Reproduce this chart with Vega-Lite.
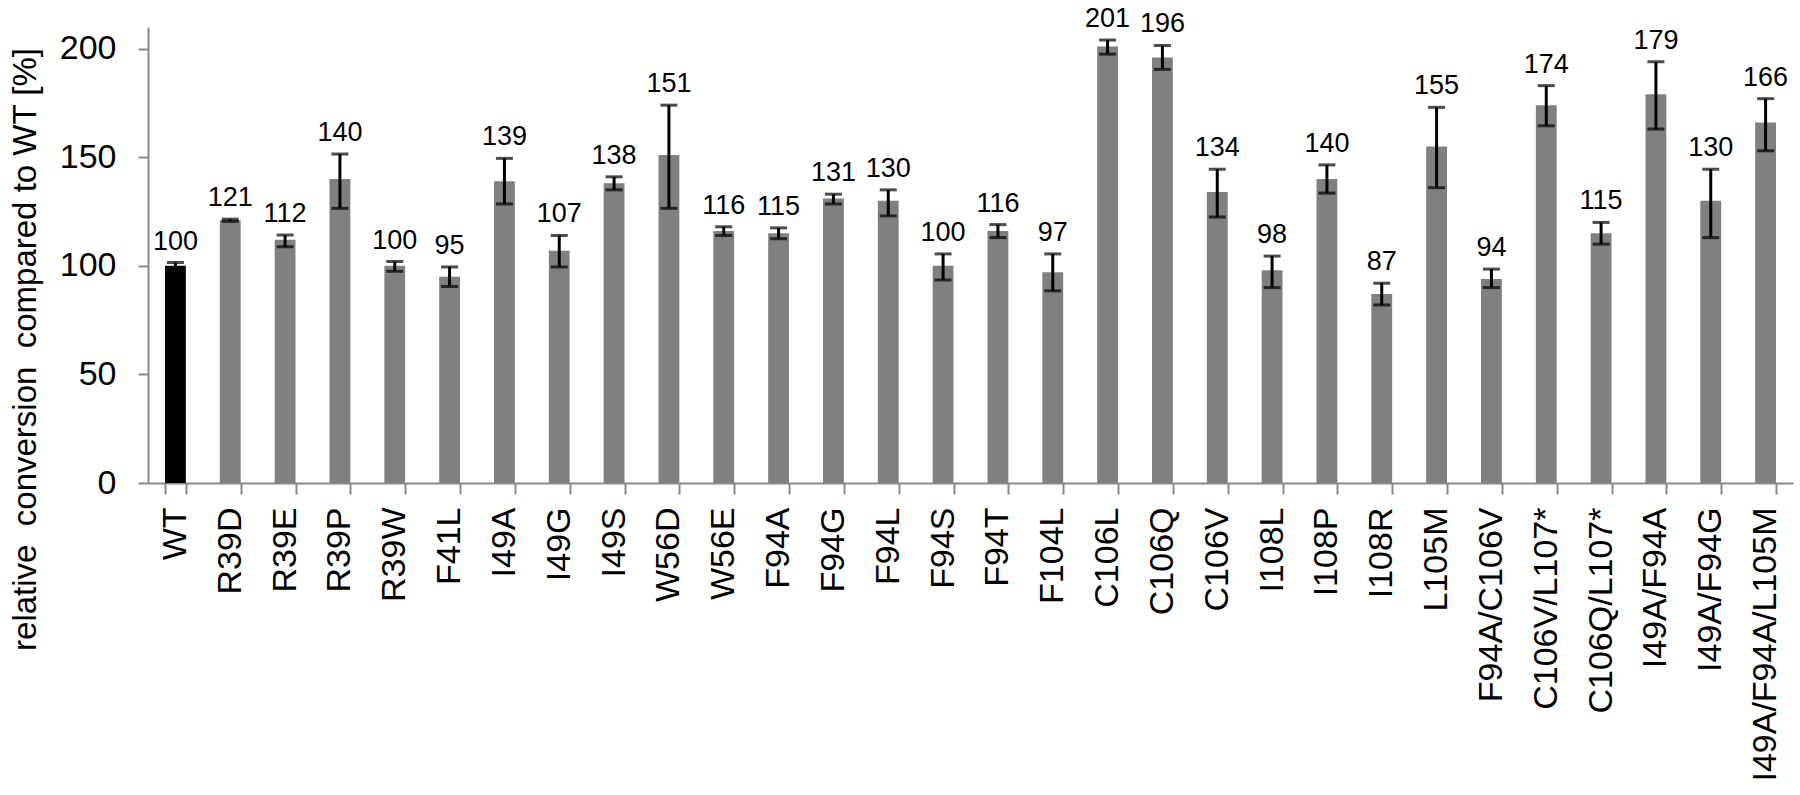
{
  "$schema": "https://vega.github.io/schema/vega-lite/v6.json",
  "autosize": {"type": "none"},
  "padding": {"left": 148, "top": 27, "right": 7, "bottom": 312},
  "width": 1645,
  "height": 456,
  "background": "white",
  "config": {
    "view": {"stroke": null},
    "font": "Liberation Sans",
    "axis": {"labelFont": "Liberation Sans", "titleFont": "Liberation Sans", "labelColor": "#000000", "titleColor": "#000000", "domainColor": "#8a8a8a", "tickColor": "#8a8a8a", "domainWidth": 2, "tickWidth": 2, "grid": false}
  },
  "data": {
    "values": [
      {"mutant": "WT", "group": "wt", "v": 100, "lo": 98.5, "hi": 101.5},
      {"mutant": "R39D", "group": "mut", "v": 121, "lo": 120.5, "hi": 121.5},
      {"mutant": "R39E", "group": "mut", "v": 112, "lo": 108.8, "hi": 114.2},
      {"mutant": "R39P", "group": "mut", "v": 140, "lo": 126.5, "hi": 151.5},
      {"mutant": "R39W", "group": "mut", "v": 100, "lo": 97.5, "hi": 102},
      {"mutant": "F41L", "group": "mut", "v": 95, "lo": 90.5, "hi": 99.5},
      {"mutant": "I49A", "group": "mut", "v": 139, "lo": 128.5, "hi": 149.5},
      {"mutant": "I49G", "group": "mut", "v": 107, "lo": 99.5, "hi": 114},
      {"mutant": "I49S", "group": "mut", "v": 138, "lo": 135, "hi": 141},
      {"mutant": "W56D", "group": "mut", "v": 151, "lo": 126.5, "hi": 174},
      {"mutant": "W56E", "group": "mut", "v": 116, "lo": 114, "hi": 118},
      {"mutant": "F94A", "group": "mut", "v": 115, "lo": 112.5, "hi": 117.5},
      {"mutant": "F94G", "group": "mut", "v": 131, "lo": 128.5, "hi": 133},
      {"mutant": "F94L", "group": "mut", "v": 130, "lo": 123, "hi": 135},
      {"mutant": "F94S", "group": "mut", "v": 100, "lo": 93.5, "hi": 105.5},
      {"mutant": "F94T", "group": "mut", "v": 116, "lo": 113, "hi": 119},
      {"mutant": "F104L", "group": "mut", "v": 97, "lo": 88.5, "hi": 105.5},
      {"mutant": "C106L", "group": "mut", "v": 201, "lo": 197.5, "hi": 204},
      {"mutant": "C106Q", "group": "mut", "v": 196, "lo": 190.5, "hi": 201.5},
      {"mutant": "C106V", "group": "mut", "v": 134, "lo": 122.5, "hi": 144.5},
      {"mutant": "I108L", "group": "mut", "v": 98, "lo": 90, "hi": 104.5},
      {"mutant": "I108P", "group": "mut", "v": 140, "lo": 133.5, "hi": 146.5},
      {"mutant": "I108R", "group": "mut", "v": 87, "lo": 82, "hi": 92},
      {"mutant": "L105M", "group": "mut", "v": 155, "lo": 136, "hi": 173},
      {"mutant": "F94A/C106V", "group": "mut", "v": 94, "lo": 90, "hi": 98.5},
      {"mutant": "C106V/L107*", "group": "mut", "v": 174, "lo": 164.5, "hi": 183},
      {"mutant": "C106Q/L107*", "group": "mut", "v": 115, "lo": 110, "hi": 120},
      {"mutant": "I49A/F94A", "group": "mut", "v": 179, "lo": 163, "hi": 194},
      {"mutant": "I49A/F94G", "group": "mut", "v": 130, "lo": 113, "hi": 144.5},
      {"mutant": "I49A/F94A/L105M", "group": "mut", "v": 166, "lo": 153, "hi": 177}
    ]
  },
  "encoding": {
    "x": {
      "field": "mutant", "type": "nominal", "sort": null,
      "scale": {"paddingInner": 0.62, "paddingOuter": 0.31},
      "axis": {"title": null, "labelAngle": -90, "labelFontSize": 34, "labelPadding": 13, "tickSize": 11, "tickBand": "extent", "labelOverlap": false, "labelLimit": 0}
    }
  },
  "layer": [
    {
      "mark": {"type": "bar"},
      "encoding": {
        "y": {
          "field": "v", "type": "quantitative",
          "scale": {"domain": [0, 210], "nice": false, "zero": true},
          "axis": {"values": [0, 50, 100, 150, 200], "labelFontSize": 34, "tickSize": 10, "labelPadding": 22, "title": "relative\u00a0 conversion\u00a0 compared to WT [%]", "titleFontSize": 33, "titleFontWeight": "normal", "titleX": -123, "titleY": 322, "titleAngle": -90, "titleAlign": "center", "titleBaseline": "middle"}
        },
        "color": {"field": "group", "type": "nominal", "scale": {"domain": ["wt", "mut"], "range": ["#000000", "#808080"]}, "legend": null}
      }
    },
    {
      "mark": {"type": "rule", "color": "#000000", "strokeWidth": 3},
      "encoding": {"y": {"field": "lo", "type": "quantitative"}, "y2": {"field": "hi"}}
    },
    {
      "mark": {"type": "tick", "color": "#000000", "thickness": 3, "size": 17},
      "encoding": {"y": {"field": "lo", "type": "quantitative"}}
    },
    {
      "mark": {"type": "tick", "color": "#000000", "thickness": 3, "size": 17},
      "encoding": {"y": {"field": "hi", "type": "quantitative"}}
    },
    {
      "mark": {"type": "text", "fontSize": 27, "baseline": "bottom", "dy": -7, "color": "#000000"},
      "encoding": {"y": {"field": "hi", "type": "quantitative"}, "text": {"field": "v", "type": "quantitative"}}
    }
  ]
}
